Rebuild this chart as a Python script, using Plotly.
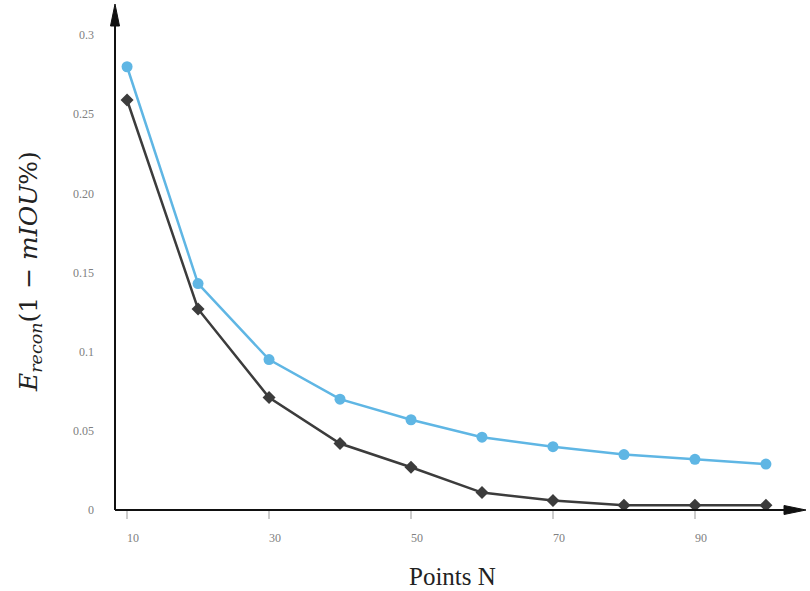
import plotly.graph_objects as go

points_n = [10, 20, 30, 40, 50, 60, 70, 80, 90, 100]
blue_vals = [0.280, 0.143, 0.095, 0.070, 0.057, 0.046, 0.040, 0.035, 0.032, 0.029]
dark_vals = [0.259, 0.127, 0.071, 0.042, 0.027, 0.011, 0.006, 0.003, 0.003, 0.003]

x_ticks = [10, 30, 50, 70, 90]
y_tickvals = [0, 0.05, 0.1, 0.15, 0.2, 0.25, 0.3]
y_ticktext = ["0", "0.05", "0.1", "0.15", "0.20", "0.25", "0.3"]

X_MIN, X_MAX = 8.3, 104.8
Y_MIN, Y_MAX = 0.0, 0.319

W, H = 810, 591
ML, MR, MT, MB = 115, 10, 5, 81
PW, PH = W - ML - MR, H - MT - MB


def px_x(px):
    return (px - ML) / PW


def px_y(py):
    return (H - MB - py) / PH


fig = go.Figure()
fig.add_trace(go.Scatter(
    x=points_n, y=blue_vals, mode="lines+markers",
    line=dict(color="#5fb6e4", width=2.5),
    marker=dict(symbol="circle", size=11, color="#5fb6e4"),
    showlegend=False))
fig.add_trace(go.Scatter(
    x=points_n, y=dark_vals, mode="lines+markers",
    line=dict(color="#3c3c3c", width=2.5),
    marker=dict(symbol="diamond", size=10, color="#3c3c3c"),
    showlegend=False))

# axis lines with arrowheads (paper-referenced shapes, not clipped)
AX_COL = "#111111"
fig.add_shape(type="line", xref="paper", yref="paper", x0=0, y0=0, x1=px_x(790), y1=0,
              line=dict(color=AX_COL, width=2))
fig.add_shape(type="path", xref="paper", yref="paper",
              path=f"M {px_x(784)} {px_y(514.5)} L {px_x(806)} 0 L {px_x(784)} {px_y(505.5)} Z",
              fillcolor=AX_COL, line=dict(color=AX_COL, width=1))
fig.add_shape(type="line", xref="paper", yref="paper", x0=0, y0=0, x1=0, y1=px_y(20),
              line=dict(color=AX_COL, width=2))
fig.add_shape(type="path", xref="paper", yref="paper",
              path=f"M {px_x(110.5)} {px_y(26)} L 0 {px_y(4)} L {px_x(119.5)} {px_y(26)} Z",
              fillcolor=AX_COL, line=dict(color=AX_COL, width=1))

# axis titles
fig.add_annotation(text="Points N", xref="paper", yref="paper", x=px_x(452), y=px_y(576),
                   xanchor="center", yanchor="middle", showarrow=False,
                   font=dict(size=25, color="#222", family="Liberation Serif, Times New Roman, serif"))
fig.add_annotation(text="<i>E</i><sub><i>recon</i></sub>(1 − <i>mIOU</i>%)",
                   xref="paper", yref="paper", x=px_x(30), y=px_y(272), textangle=-90,
                   xanchor="center", yanchor="middle", showarrow=False,
                   font=dict(size=25, color="#222", family="DejaVu Serif, serif"))

fig.update_layout(
    width=W, height=H,
    margin=dict(l=ML, r=MR, t=MT, b=MB),
    paper_bgcolor="white", plot_bgcolor="white",
    font=dict(family="Liberation Serif, Times New Roman, serif", color="#333"),
    xaxis=dict(range=[X_MIN, X_MAX], tickvals=x_ticks, ticks="outside", ticklen=8,
               tickcolor="#cccccc", tickwidth=1.5, showgrid=False, zeroline=False, showline=False,
               tickfont=dict(size=12, color="#808080"), ticklabelshift=6, ticklabelstandoff=9,
               automargin=False),
    yaxis=dict(range=[Y_MIN, Y_MAX], tickvals=y_tickvals, ticktext=y_ticktext,
               showgrid=False, zeroline=False, showline=False, ticks="",
               tickfont=dict(size=12, color="#808080"), ticklabelstandoff=20,
               automargin=False),
)

fig.write_html("out.html")
